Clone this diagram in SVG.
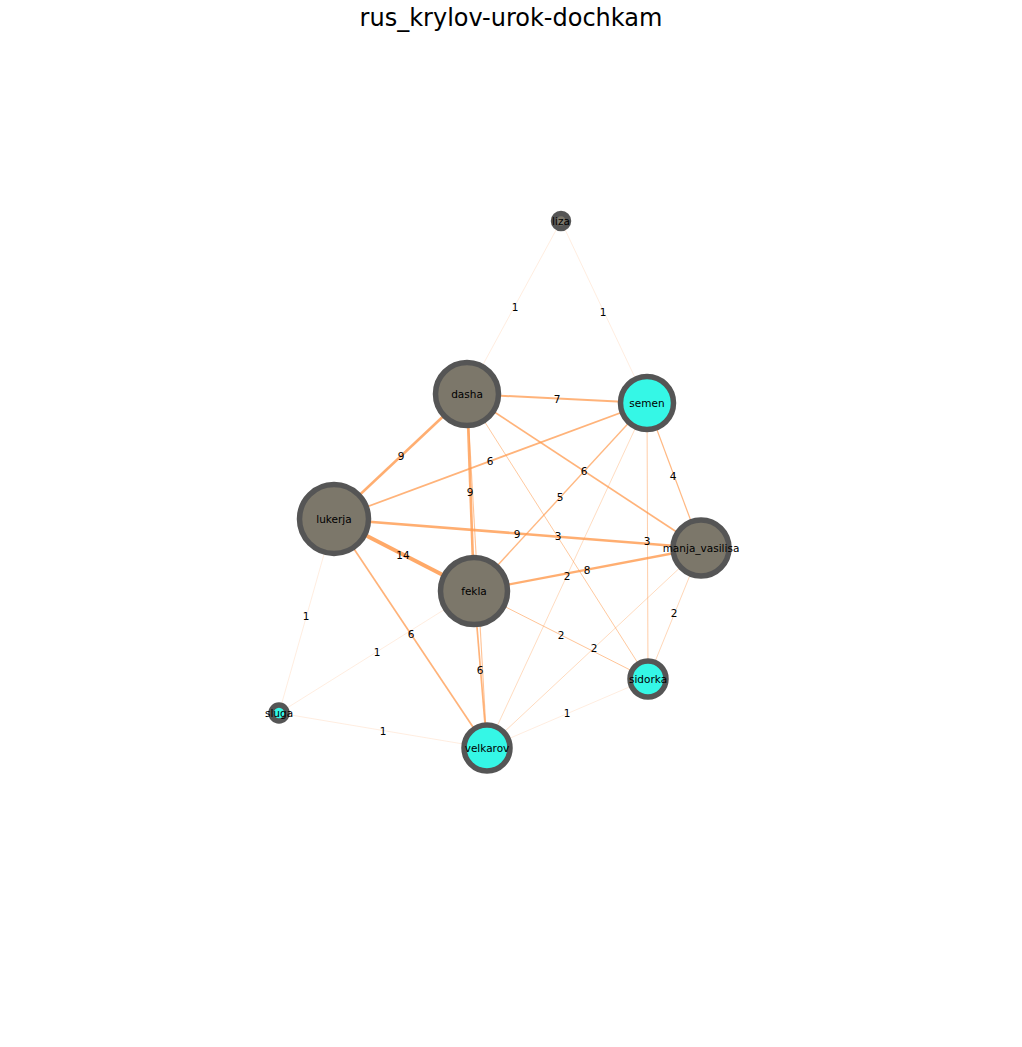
<svg xmlns="http://www.w3.org/2000/svg" width="1022" height="1047" viewBox="0 0 1022 1047">
<style>
text{font-family:"DejaVu Sans","Liberation Sans",sans-serif;fill:#000}
.title{font-size:24px;text-anchor:middle}
.nl{font-size:10.5px;text-anchor:middle;dominant-baseline:central}
.el{font-size:10.5px;text-anchor:middle;dominant-baseline:central}
#edges line{stroke:#ff9a4d}
#edges line.w1{stroke:#ffb580;stroke-width:0.7;stroke-opacity:0.35}
.n circle{stroke:#555555;stroke-width:5.5}
.g{fill:#7c776a}
.c{fill:#35f7e6}
</style>
<rect width="1022" height="1047" fill="#ffffff"/>
<text class="title" x="511" y="26">rus_krylov-urok-dochkam</text>
<g id="edges">
<line class="w1" x1="561" y1="221" x2="467" y2="394"/>
<line class="w1" x1="561" y1="221" x2="647" y2="403"/>
<line x1="467" y1="394" x2="647" y2="403" stroke-width="2" stroke-opacity="0.75"/>
<line x1="467" y1="394" x2="334" y2="519" stroke-width="2.6" stroke-opacity="0.8"/>
<line x1="467" y1="394" x2="474" y2="591" stroke-width="2.6" stroke-opacity="0.8"/>
<line x1="467" y1="394" x2="487" y2="748" stroke-width="1.1" stroke-opacity="0.6"/>
<line x1="467" y1="394" x2="701" y2="548" stroke-width="1.7" stroke-opacity="0.75"/>
<line x1="467" y1="394" x2="648" y2="679" stroke-width="0.9" stroke-opacity="0.6"/>
<line x1="334" y1="519" x2="647" y2="403" stroke-width="1.7" stroke-opacity="0.75"/>
<line x1="474" y1="591" x2="647" y2="403" stroke-width="1.4" stroke-opacity="0.7"/>
<line x1="647" y1="403" x2="701" y2="548" stroke-width="1.2" stroke-opacity="0.7"/>
<line x1="647" y1="403" x2="648" y2="679" stroke-width="0.9" stroke-opacity="0.55"/>
<line x1="647" y1="403" x2="487" y2="748" stroke-width="0.7" stroke-opacity="0.5"/>
<line x1="334" y1="519" x2="701" y2="548" stroke-width="2.6" stroke-opacity="0.8"/>
<line x1="334" y1="519" x2="474" y2="591" stroke-width="4" stroke-opacity="0.85"/>
<line x1="334" y1="519" x2="487" y2="748" stroke-width="1.7" stroke-opacity="0.75"/>
<line class="w1" x1="334" y1="519" x2="279" y2="713"/>
<line x1="474" y1="591" x2="701" y2="548" stroke-width="2.3" stroke-opacity="0.8"/>
<line x1="474" y1="591" x2="648" y2="679" stroke-width="0.9" stroke-opacity="0.65"/>
<line x1="474" y1="591" x2="487" y2="748" stroke-width="1.7" stroke-opacity="0.75"/>
<line class="w1" x1="474" y1="591" x2="279" y2="713"/>
<line x1="701" y1="548" x2="648" y2="679" stroke-width="0.8" stroke-opacity="0.5"/>
<line x1="701" y1="548" x2="487" y2="748" stroke-width="0.8" stroke-opacity="0.45"/>
<line class="w1" x1="648" y1="679" x2="487" y2="748"/>
<line class="w1" x1="279" y1="713" x2="487" y2="748"/>
</g>
<g id="edge-labels">
<text class="el" x="515" y="307">1</text>
<text class="el" x="603" y="312">1</text>
<text class="el" x="557" y="399">7</text>
<text class="el" x="401" y="456">9</text>
<text class="el" x="470" y="492">9</text>
<text class="el" x="584" y="471">6</text>
<text class="el" x="558" y="536">3</text>
<text class="el" x="490" y="461">6</text>
<text class="el" x="560" y="497">5</text>
<text class="el" x="673" y="476">4</text>
<text class="el" x="647" y="541">3</text>
<text class="el" x="567" y="576">2</text>
<text class="el" x="517" y="534">9</text>
<text class="el" x="403" y="555">14</text>
<text class="el" x="411" y="634">6</text>
<text class="el" x="306" y="616">1</text>
<text class="el" x="587" y="570">8</text>
<text class="el" x="561" y="635">2</text>
<text class="el" x="480" y="670">6</text>
<text class="el" x="377" y="652">1</text>
<text class="el" x="674" y="613">2</text>
<text class="el" x="594" y="648">2</text>
<text class="el" x="567" y="713">1</text>
<text class="el" x="383" y="731">1</text>
</g>
<g id="liza" class="n"><circle cx="561" cy="221" r="7.5" class="g"/><text class="nl" x="561" y="221">liza</text></g>
<g id="dasha" class="n"><circle cx="467" cy="394" r="31.5" class="g"/><text class="nl" x="467" y="394">dasha</text></g>
<g id="semen" class="n"><circle cx="647" cy="403" r="26.5" class="c"/><text class="nl" x="647" y="403">semen</text></g>
<g id="lukerja" class="n"><circle cx="334" cy="519" r="34.5" class="g"/><text class="nl" x="334" y="519">lukerja</text></g>
<g id="manja_vasilisa" class="n"><circle cx="701" cy="548" r="28" class="g"/><text class="nl" x="701" y="548">manja_vasilisa</text></g>
<g id="fekla" class="n"><circle cx="474" cy="591" r="33.5" class="g"/><text class="nl" x="474" y="591">fekla</text></g>
<g id="sidorka" class="n"><circle cx="648" cy="679" r="18" class="c"/><text class="nl" x="648" y="679">sidorka</text></g>
<g id="velkarov" class="n"><circle cx="487" cy="748" r="23" class="c"/><text class="nl" x="487" y="748">velkarov</text></g>
<g id="sluga" class="n"><circle cx="279" cy="713" r="8" class="c"/><text class="nl" x="279" y="713">sluga</text></g>
</svg>
